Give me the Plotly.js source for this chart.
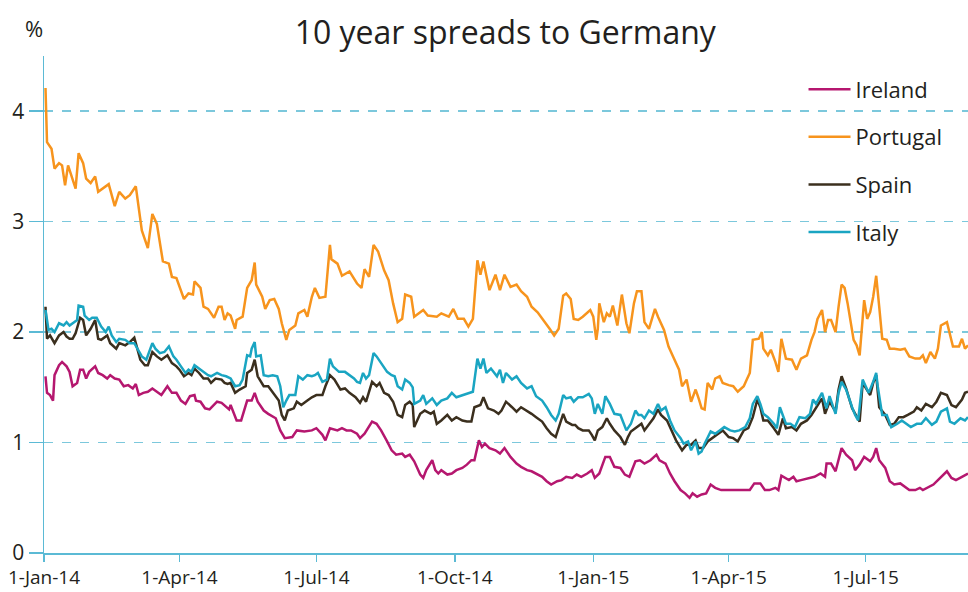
<!DOCTYPE html>
<html>
<head>
<meta charset="utf-8">
<script src="https://cdn.plot.ly/plotly-3.0.1.min.js"></script>
<style>html,body{margin:0;padding:0;background:#fff;}#chart{width:968px;height:592px;}</style>
</head>
<body>
<div id="chart"></div>
<script>
// Days since 1-Jan-2014 and spread values (%)
const seriesNames = ["Ireland", "Portugal", "Spain", "Italy"];
const seriesColors = ["#b5176f", "#f7941d", "#3b2f1e", "#1aa5c2"];

const portugalDay = [1,2,5,7,10,12,14,16,21,23,26,28,31,34,36,43,47,50,54,57,61,65,69,72,75,79,83,85,88,93,96,99,100,104,106,109,113,116,118,120,122,124,127,128,132,135,138,140,141,145,147,150,153,156,158,161,163,167,169,173,175,178,180,183,187,190,191,195,198,203,208,211,213,216,219,222,226,229,232,235,238,240,244,246,252,255,261,264,269,272,275,279,282,285,288,290,292,296,300,303,306,310,314,317,321,324,328,332,336,339,342,345,347,350,352,355,358,363,365,367,368,369,372,374,376,378,381,384,387,389,392,394,397,399,402,406,408,412,415,418,422,424,427,430,433,435,437,439,441,444,446,449,451,455,458,461,465,467,469,471,475,477,478,481,483,486,488,490,493,497,500,503,507,510,512,514,517,519,521,523,526,528,530,532,534,538,540,542,543,545,547,549,551,553,555,557,560,562,565,569,572,575,579,582,584,586,589,592,594,596,600,602,604,608,610,612,614];
const portugalVal = [4.21,3.72,3.66,3.48,3.53,3.51,3.33,3.51,3.30,3.62,3.53,3.39,3.35,3.41,3.27,3.34,3.14,3.27,3.21,3.24,3.32,2.92,2.76,3.07,2.98,2.64,2.62,2.50,2.49,2.30,2.35,2.34,2.46,2.40,2.23,2.21,2.13,2.23,2.23,2.11,2.17,2.15,2.03,2.11,2.14,2.40,2.47,2.63,2.43,2.32,2.21,2.29,2.30,2.21,2.08,1.93,2.02,2.06,2.17,2.20,2.14,2.32,2.40,2.31,2.32,2.79,2.66,2.62,2.51,2.55,2.44,2.40,2.57,2.50,2.79,2.73,2.56,2.47,2.26,2.09,2.12,2.34,2.32,2.14,2.20,2.15,2.14,2.17,2.14,2.21,2.12,2.12,2.05,2.12,2.65,2.52,2.64,2.38,2.52,2.38,2.52,2.41,2.43,2.37,2.32,2.23,2.18,2.11,2.03,1.97,2.03,2.33,2.35,2.30,2.12,2.11,2.14,2.20,2.14,1.93,2.03,2.26,2.09,2.17,2.14,2.24,2.06,2.34,2.08,1.99,2.26,2.37,2.37,2.09,2.03,2.21,2.14,2.02,1.87,1.78,1.66,1.51,1.57,1.37,1.48,1.40,1.31,1.30,1.54,1.48,1.58,1.60,1.54,1.52,1.51,1.46,1.51,1.57,1.63,1.93,1.94,2.00,1.85,1.79,1.84,1.73,1.64,1.94,1.76,1.75,1.66,1.76,1.79,1.93,2.00,2.12,2.20,2.00,2.11,2.11,2.00,2.23,2.43,2.40,2.26,1.93,1.88,1.79,1.96,2.29,2.12,2.18,2.32,2.51,2.23,1.94,1.93,1.85,1.85,1.84,1.85,1.78,1.76,1.76,1.79,1.72,1.82,1.76,1.85,2.06,2.09,1.97,1.87,1.87,1.94,1.85,1.88];

const italyDay = [1,3,5,7,10,13,15,17,20,22,23,26,27,30,32,35,38,41,43,45,48,50,54,57,60,63,65,68,72,74,77,80,83,86,88,91,94,96,98,100,104,107,109,111,115,118,121,124,127,130,132,135,137,138,140,141,144,146,149,152,155,157,159,161,163,167,169,172,175,178,180,182,185,188,190,192,196,200,203,206,208,210,212,214,216,219,221,224,228,231,233,235,238,240,243,245,246,250,252,254,258,261,264,268,271,274,278,282,285,288,290,292,294,297,301,303,305,307,311,314,317,321,324,327,331,334,337,340,342,345,347,350,352,355,358,362,364,366,368,371,373,376,379,383,385,387,390,393,395,397,399,402,405,408,410,413,416,419,423,425,428,430,433,435,437,439,443,446,449,452,456,459,462,466,469,471,474,476,478,481,485,487,489,493,496,499,502,506,509,511,513,517,520,522,526,528,530,533,537,539,541,544,546,548,551,553,554,557,560,563,567,570,573,576,580,583,586,590,593,596,600,602,605,609,612,614];
const italyVal = [2.20,2.02,2.03,2.00,2.08,2.06,2.09,2.06,2.09,2.11,2.24,2.23,2.15,2.11,2.13,2.13,2.05,2.00,2.05,1.97,1.91,1.94,1.93,1.90,1.90,1.82,1.78,1.75,1.90,1.85,1.81,1.82,1.87,1.78,1.75,1.69,1.63,1.66,1.64,1.70,1.66,1.63,1.61,1.60,1.63,1.61,1.60,1.58,1.51,1.52,1.57,1.79,1.78,1.85,1.91,1.78,1.79,1.61,1.60,1.61,1.60,1.51,1.32,1.38,1.43,1.43,1.60,1.57,1.61,1.60,1.61,1.63,1.55,1.57,1.76,1.69,1.64,1.64,1.61,1.58,1.55,1.54,1.63,1.58,1.61,1.81,1.78,1.72,1.64,1.61,1.60,1.51,1.48,1.57,1.54,1.50,1.35,1.38,1.43,1.35,1.40,1.34,1.38,1.40,1.45,1.41,1.43,1.45,1.46,1.76,1.67,1.76,1.63,1.67,1.60,1.66,1.54,1.63,1.57,1.60,1.54,1.49,1.51,1.42,1.38,1.32,1.25,1.20,1.26,1.43,1.40,1.41,1.37,1.41,1.41,1.44,1.40,1.26,1.35,1.26,1.42,1.35,1.26,1.25,1.17,1.11,1.17,1.29,1.25,1.25,1.22,1.29,1.26,1.35,1.29,1.32,1.20,1.11,1.04,0.99,1.01,0.93,1.01,0.90,0.92,0.99,1.10,1.08,1.11,1.14,1.11,1.10,1.11,1.14,1.22,1.35,1.42,1.35,1.26,1.23,1.17,1.13,1.32,1.17,1.17,1.14,1.23,1.22,1.26,1.39,1.35,1.45,1.31,1.42,1.26,1.45,1.55,1.48,1.32,1.25,1.20,1.57,1.51,1.45,1.55,1.63,1.51,1.25,1.25,1.14,1.17,1.20,1.17,1.14,1.17,1.17,1.22,1.16,1.19,1.28,1.31,1.19,1.17,1.22,1.20,1.23];

const spainDay = [1,2,4,7,10,13,15,17,19,21,24,26,28,31,34,36,38,42,44,48,50,54,57,60,62,64,67,69,72,75,78,82,85,88,90,93,96,98,100,103,106,109,111,114,118,120,122,124,127,130,134,135,138,140,142,146,149,152,156,158,160,162,166,168,171,175,178,181,185,187,190,193,197,200,203,207,210,212,214,218,221,223,226,229,232,235,238,240,243,245,246,250,253,257,259,261,264,268,271,274,278,281,284,286,290,292,295,299,302,304,307,311,314,317,321,324,327,331,334,337,340,342,345,347,351,353,355,358,362,364,366,368,371,374,376,379,383,386,388,390,394,397,399,402,405,408,410,414,417,420,424,427,430,433,435,438,441,445,448,451,455,458,461,465,468,471,474,476,478,481,485,488,491,493,497,500,503,507,510,513,517,519,522,526,528,530,533,537,540,542,544,547,549,551,553,555,559,562,565,568,571,574,578,580,583,586,590,593,596,600,603,606,610,612,614];
const spainVal = [2.23,1.94,1.97,1.90,1.97,2.00,1.96,1.94,1.94,1.99,2.13,2.11,1.97,2.03,2.11,1.94,1.93,1.97,1.90,1.85,1.90,1.88,1.91,1.95,1.85,1.75,1.70,1.70,1.82,1.78,1.75,1.79,1.72,1.69,1.66,1.60,1.63,1.61,1.67,1.63,1.58,1.58,1.54,1.58,1.57,1.54,1.53,1.54,1.45,1.48,1.51,1.63,1.66,1.75,1.60,1.51,1.51,1.45,1.38,1.25,1.20,1.29,1.31,1.37,1.34,1.38,1.41,1.43,1.43,1.51,1.61,1.57,1.48,1.49,1.45,1.41,1.36,1.41,1.37,1.55,1.51,1.54,1.45,1.43,1.37,1.25,1.23,1.34,1.37,1.34,1.14,1.26,1.29,1.26,1.28,1.17,1.20,1.25,1.20,1.23,1.20,1.19,1.19,1.32,1.34,1.41,1.31,1.29,1.26,1.29,1.37,1.32,1.28,1.32,1.29,1.26,1.23,1.19,1.13,1.08,1.05,1.14,1.26,1.19,1.16,1.16,1.13,1.11,1.11,1.07,1.02,1.11,1.14,1.22,1.17,1.11,1.05,0.98,1.05,1.10,1.14,1.17,1.11,1.17,1.22,1.30,1.25,1.20,1.11,1.02,0.93,0.98,0.98,1.02,0.95,0.95,1.01,1.05,1.08,1.11,1.05,1.04,1.01,1.11,1.13,1.23,1.39,1.32,1.20,1.20,1.13,1.07,1.22,1.13,1.14,1.11,1.17,1.20,1.25,1.32,1.40,1.26,1.37,1.28,1.48,1.60,1.49,1.31,1.23,1.19,1.54,1.48,1.43,1.54,1.61,1.32,1.25,1.16,1.17,1.23,1.23,1.25,1.28,1.32,1.29,1.35,1.32,1.37,1.45,1.43,1.34,1.32,1.39,1.45,1.46];

const irelandDay = [1,2,4,6,7,10,12,15,17,19,22,24,26,28,30,34,36,39,42,44,47,50,53,56,59,61,63,66,69,72,75,78,82,85,88,91,94,97,100,101,104,107,110,113,115,118,121,123,124,128,131,135,138,140,142,146,149,154,157,160,165,168,173,178,181,185,187,190,195,198,201,204,208,210,213,218,221,224,228,231,234,238,240,243,246,250,252,254,258,260,262,264,268,271,274,278,281,284,286,289,291,293,296,300,303,306,310,314,317,321,324,327,331,334,337,341,344,347,351,354,357,361,364,366,369,373,376,379,383,386,389,393,396,399,403,407,409,413,416,419,423,426,429,431,434,437,440,443,446,450,457,464,469,472,476,479,482,486,488,490,495,498,500,503,508,512,516,519,520,523,526,530,533,537,539,542,545,549,551,553,555,559,562,565,569,572,575,579,582,584,588,591,594,598,600,603,606,610,614];
const irelandVal = [1.60,1.45,1.43,1.38,1.61,1.70,1.73,1.69,1.64,1.51,1.54,1.66,1.66,1.58,1.64,1.69,1.63,1.61,1.58,1.61,1.58,1.57,1.51,1.52,1.49,1.53,1.43,1.45,1.46,1.49,1.46,1.43,1.51,1.45,1.45,1.38,1.35,1.42,1.43,1.38,1.37,1.31,1.30,1.34,1.37,1.36,1.32,1.30,1.34,1.20,1.20,1.38,1.38,1.45,1.37,1.29,1.26,1.22,1.11,1.04,1.05,1.11,1.10,1.11,1.13,1.07,1.02,1.13,1.11,1.13,1.11,1.11,1.08,1.04,1.08,1.19,1.17,1.11,1.01,0.93,0.89,0.90,0.87,0.89,0.83,0.71,0.68,0.75,0.84,0.75,0.72,0.75,0.71,0.72,0.75,0.77,0.80,0.84,0.84,1.02,0.96,0.99,0.95,0.93,0.90,0.95,0.87,0.81,0.78,0.75,0.74,0.72,0.69,0.65,0.62,0.65,0.66,0.69,0.68,0.71,0.69,0.72,0.75,0.68,0.72,0.87,0.87,0.78,0.77,0.71,0.69,0.83,0.84,0.81,0.84,0.89,0.84,0.81,0.72,0.65,0.57,0.54,0.50,0.54,0.51,0.53,0.54,0.62,0.59,0.57,0.57,0.57,0.57,0.63,0.63,0.57,0.57,0.59,0.57,0.70,0.66,0.69,0.65,0.66,0.68,0.69,0.72,0.69,0.81,0.81,0.74,0.95,0.89,0.84,0.75,0.80,0.87,0.83,0.87,0.95,0.84,0.77,0.65,0.62,0.63,0.60,0.57,0.57,0.59,0.57,0.60,0.62,0.66,0.72,0.74,0.68,0.66,0.69,0.72];

const tickDates = ["2014-01-01","2014-04-01","2014-07-01","2014-10-01","2015-01-01","2015-04-01","2015-07-01"];
const tickLabels = ["1-Jan-14","1-Apr-14","1-Jul-14","1-Oct-14","1-Jan-15","1-Apr-15","1-Jul-15"];
const yTicks = [0, 1, 2, 3, 4];

function toDates(days) {
  return days.map(function (d) {
    const t = new Date(Date.UTC(2014, 0, 1 + d));
    return t.toISOString().slice(0, 10);
  });
}

const allDays = [irelandDay, portugalDay, spainDay, italyDay];
const allVals = [irelandVal, portugalVal, spainVal, italyVal];

const traces = seriesNames.map(function (name, i) {
  return {
    type: "scatter",
    mode: "lines",
    name: name,
    legendgroup: name,
    x: toDates(allDays[i]),
    y: allVals[i],
    line: { color: seriesColors[i], width: 2.5 },
    hoverinfo: "x+y+name"
  };
});

const axisBlue = "#5bbad5";
const fontFam = "'Open Sans', 'Noto Sans', sans-serif";
const textCol = "#231f20";

const layout = {
  width: 968,
  height: 592,
  margin: { l: 44, r: 0, t: 56, b: 39 },
  paper_bgcolor: "#ffffff",
  plot_bgcolor: "#ffffff",
  font: { family: fontFam, color: textCol },
  title: {
    text: "10 year spreads to Germany",
    font: { size: 32, family: fontFam, color: textCol },
    x: 0.522, xanchor: "center", y: 0.945, yanchor: "middle"
  },
  showlegend: true,
  legend: {
    x: 0.822, y: 0.975, xanchor: "left", yanchor: "top",
    font: { size: 22, family: fontFam, color: textCol },
    bgcolor: "rgba(255,255,255,0)",
    traceorder: "grouped",
    tracegroupgap: 16,
    itemwidth: 42
  },
  xaxis: {
    type: "date",
    range: ["2014-01-01", "2015-09-07"],
    tickmode: "array",
    tickvals: tickDates,
    ticktext: tickLabels,
    ticks: "outside",
    ticklen: 7,
    tickwidth: 1.5,
    tickcolor: axisBlue,
    showline: true,
    linecolor: axisBlue,
    linewidth: 1.5,
    showgrid: false,
    zeroline: false,
    tickfont: { size: 19, family: fontFam, color: textCol },
    fixedrange: true
  },
  yaxis: {
    range: [0, 4.5],
    tickmode: "array",
    tickvals: yTicks,
    ticks: "outside",
    ticklen: 14,
    tickwidth: 1.5,
    tickcolor: axisBlue,
    showline: true,
    linecolor: axisBlue,
    linewidth: 1.5,
    showgrid: true,
    gridcolor: "#7cc8dc",
    gridwidth: 1.5,
    griddash: "dash",
    zeroline: false,
    tickfont: { size: 21, family: fontFam, color: textCol },
    fixedrange: true
  },
  annotations: [{
    text: "%",
    xref: "paper", yref: "paper",
    x: -0.011, y: 1.056, xanchor: "center", yanchor: "middle",
    showarrow: false,
    font: { size: 22, family: fontFam, color: textCol }
  }]
};

Plotly.newPlot("chart", traces, layout, { displayModeBar: false, staticPlot: true });
</script>
</body>
</html>
